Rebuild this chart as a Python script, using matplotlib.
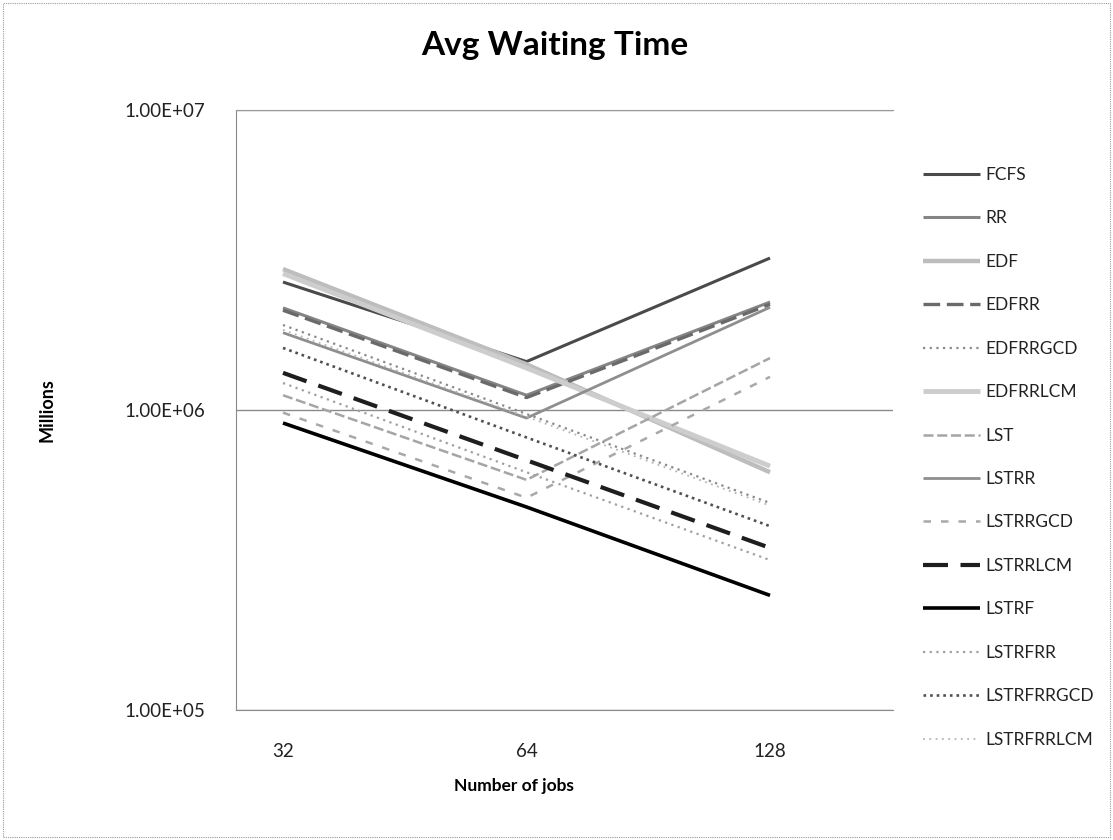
import matplotlib
matplotlib.use("Agg")
import matplotlib.pyplot as plt
from matplotlib.patches import Rectangle

plt.rcParams['font.family'] = ['Lato', 'DejaVu Sans']

jobs = ["32", "64", "128"]

FCFS = [2.67e6, 1.45e6, 3.21e6]
RR = [2.19e6, 1.12e6, 2.29e6]
EDF = [2.95e6, 1.42e6, 6.2e5]
EDFRR = [2.15e6, 1.10e6, 2.25e6]
EDFRRGCD = [1.92e6, 9.7e5, 4.9e5]
EDFRRLCM = [2.85e6, 1.38e6, 6.5e5]
LST = [1.12e6, 5.85e5, 1.49e6]
LSTRR = [1.81e6, 9.4e5, 2.2e6]
LSTRRGCD = [9.8e5, 5.1e5, 1.29e6]
LSTRRLCM = [1.33e6, 6.8e5, 3.47e5]
LSTRF = [9.05e5, 4.75e5, 2.41e5]
LSTRFRR = [1.23e6, 6.2e5, 3.16e5]
LSTRFRRGCD = [1.61e6, 8.1e5, 4.1e5]
LSTRFRRLCM = [1.85e6, 9.5e5, 4.8e5]

series_names = ["FCFS", "RR", "EDF", "EDFRR", "EDFRRGCD", "EDFRRLCM", "LST",
                "LSTRR", "LSTRRGCD", "LSTRRLCM", "LSTRF", "LSTRFRR",
                "LSTRFRRGCD", "LSTRFRRLCM"]
series_values = [FCFS, RR, EDF, EDFRR, EDFRRGCD, EDFRRLCM, LST, LSTRR,
                 LSTRRGCD, LSTRRLCM, LSTRF, LSTRFRR, LSTRFRRGCD, LSTRFRRLCM]

styles = {
    "FCFS":       dict(color="#4a4a4a", lw=2.2, ls="-"),
    "RR":         dict(color="#858585", lw=2.2, ls="-"),
    "EDF":        dict(color="#bdbdbd", lw=3.2, ls="-"),
    "EDFRR":      dict(color="#6a6a6a", lw=2.4, ls=(0, (5, 2))),
    "EDFRRGCD":   dict(color="#8a8a8a", lw=1.6, ls=(0, (1, 2))),
    "EDFRRLCM":   dict(color="#cdcdcd", lw=3.5, ls="-"),
    "LST":        dict(color="#a5a5a5", lw=1.8, ls=(0, (4, 1.5))),
    "LSTRR":      dict(color="#8e8e8e", lw=2.0, ls="-"),
    "LSTRRGCD":   dict(color="#a8a8a8", lw=1.8, ls=(0, (3, 4))),
    "LSTRRLCM":   dict(color="#1e1e1e", lw=3.0, ls=(0, (6, 3))),
    "LSTRF":      dict(color="#000000", lw=2.6, ls="-"),
    "LSTRFRR":    dict(color="#a0a0a0", lw=1.6, ls=(0, (1, 2))),
    "LSTRFRRGCD": dict(color="#505050", lw=1.9, ls=(0, (1, 1.5))),
    "LSTRFRRLCM": dict(color="#b5b5b5", lw=1.3, ls=(0, (1, 2.5))),
}

W, H = 1113, 840
fig = plt.figure(figsize=(W / 100, H / 100), dpi=100)
fig.patch.set_facecolor("white")
fig.add_artist(Rectangle((0.003, 0.003), 0.994, 0.994, transform=fig.transFigure,
                         fill=False, edgecolor="#9a9a9a", lw=0.8, ls=(0, (1, 1))))

left, right, top, bottom = 236, 893, 110, 710
ax = fig.add_axes([left / W, 1 - bottom / H, (right - left) / W, (bottom - top) / H])

x = list(range(len(jobs)))
for name, vals in zip(series_names, series_values):
    st = styles[name]
    ax.plot(x, vals, color=st["color"], lw=st["lw"], linestyle=st["ls"],
            label=name, solid_capstyle="butt", dash_capstyle="butt")

ax.set_yscale("log")
ax.set_ylim(1e5, 1e7)
ax.set_xlim(-0.193, 2.505)
ax.set_yticks([1e5, 1e6, 1e7])
ax.set_yticklabels(["1.00E+05", "1.00E+06", "1.00E+07"])
ax.yaxis.set_minor_locator(matplotlib.ticker.NullLocator())
ax.set_xticks(x)
ax.set_xticklabels(jobs)
ax.tick_params(axis="both", length=0, labelsize=13.5, colors="#222222")
ax.tick_params(axis="y", pad=22)
ax.tick_params(axis="x", pad=24)
ax.grid(axis="y", which="major", color="#8a8a8a", lw=1.0)
ax.set_axisbelow(True)
ax.spines["right"].set_visible(False)
ax.spines["top"].set_color("#9a9a9a")
ax.spines["top"].set_linewidth(0.8)
ax.spines["left"].set_color("#8a8a8a")
ax.spines["bottom"].set_color("#8a8a8a")

fig.text(514 / W, 1 - 786 / H, "Number of jobs", ha="center", va="center",
         fontsize=12.5, fontweight="bold")
fig.text(47 / W, 1 - 410 / H, "Millions", rotation=90, ha="center", va="center",
         fontsize=13, fontweight="bold")
fig.text(555 / W, 1 - 45 / H, "Avg Waiting Time", ha="center", va="center",
         fontsize=24, fontweight="bold")

leg = fig.legend(loc="upper left", bbox_to_anchor=(923 / W, 1 - 167 / H),
                 frameon=False, fontsize=12.5, handlelength=3.3,
                 handletextpad=0.3, labelspacing=1.58, borderpad=0,
                 borderaxespad=0)
for t in leg.get_texts():
    t.set_color("#222222")

fig.savefig("out.png", dpi=100, facecolor="white")
